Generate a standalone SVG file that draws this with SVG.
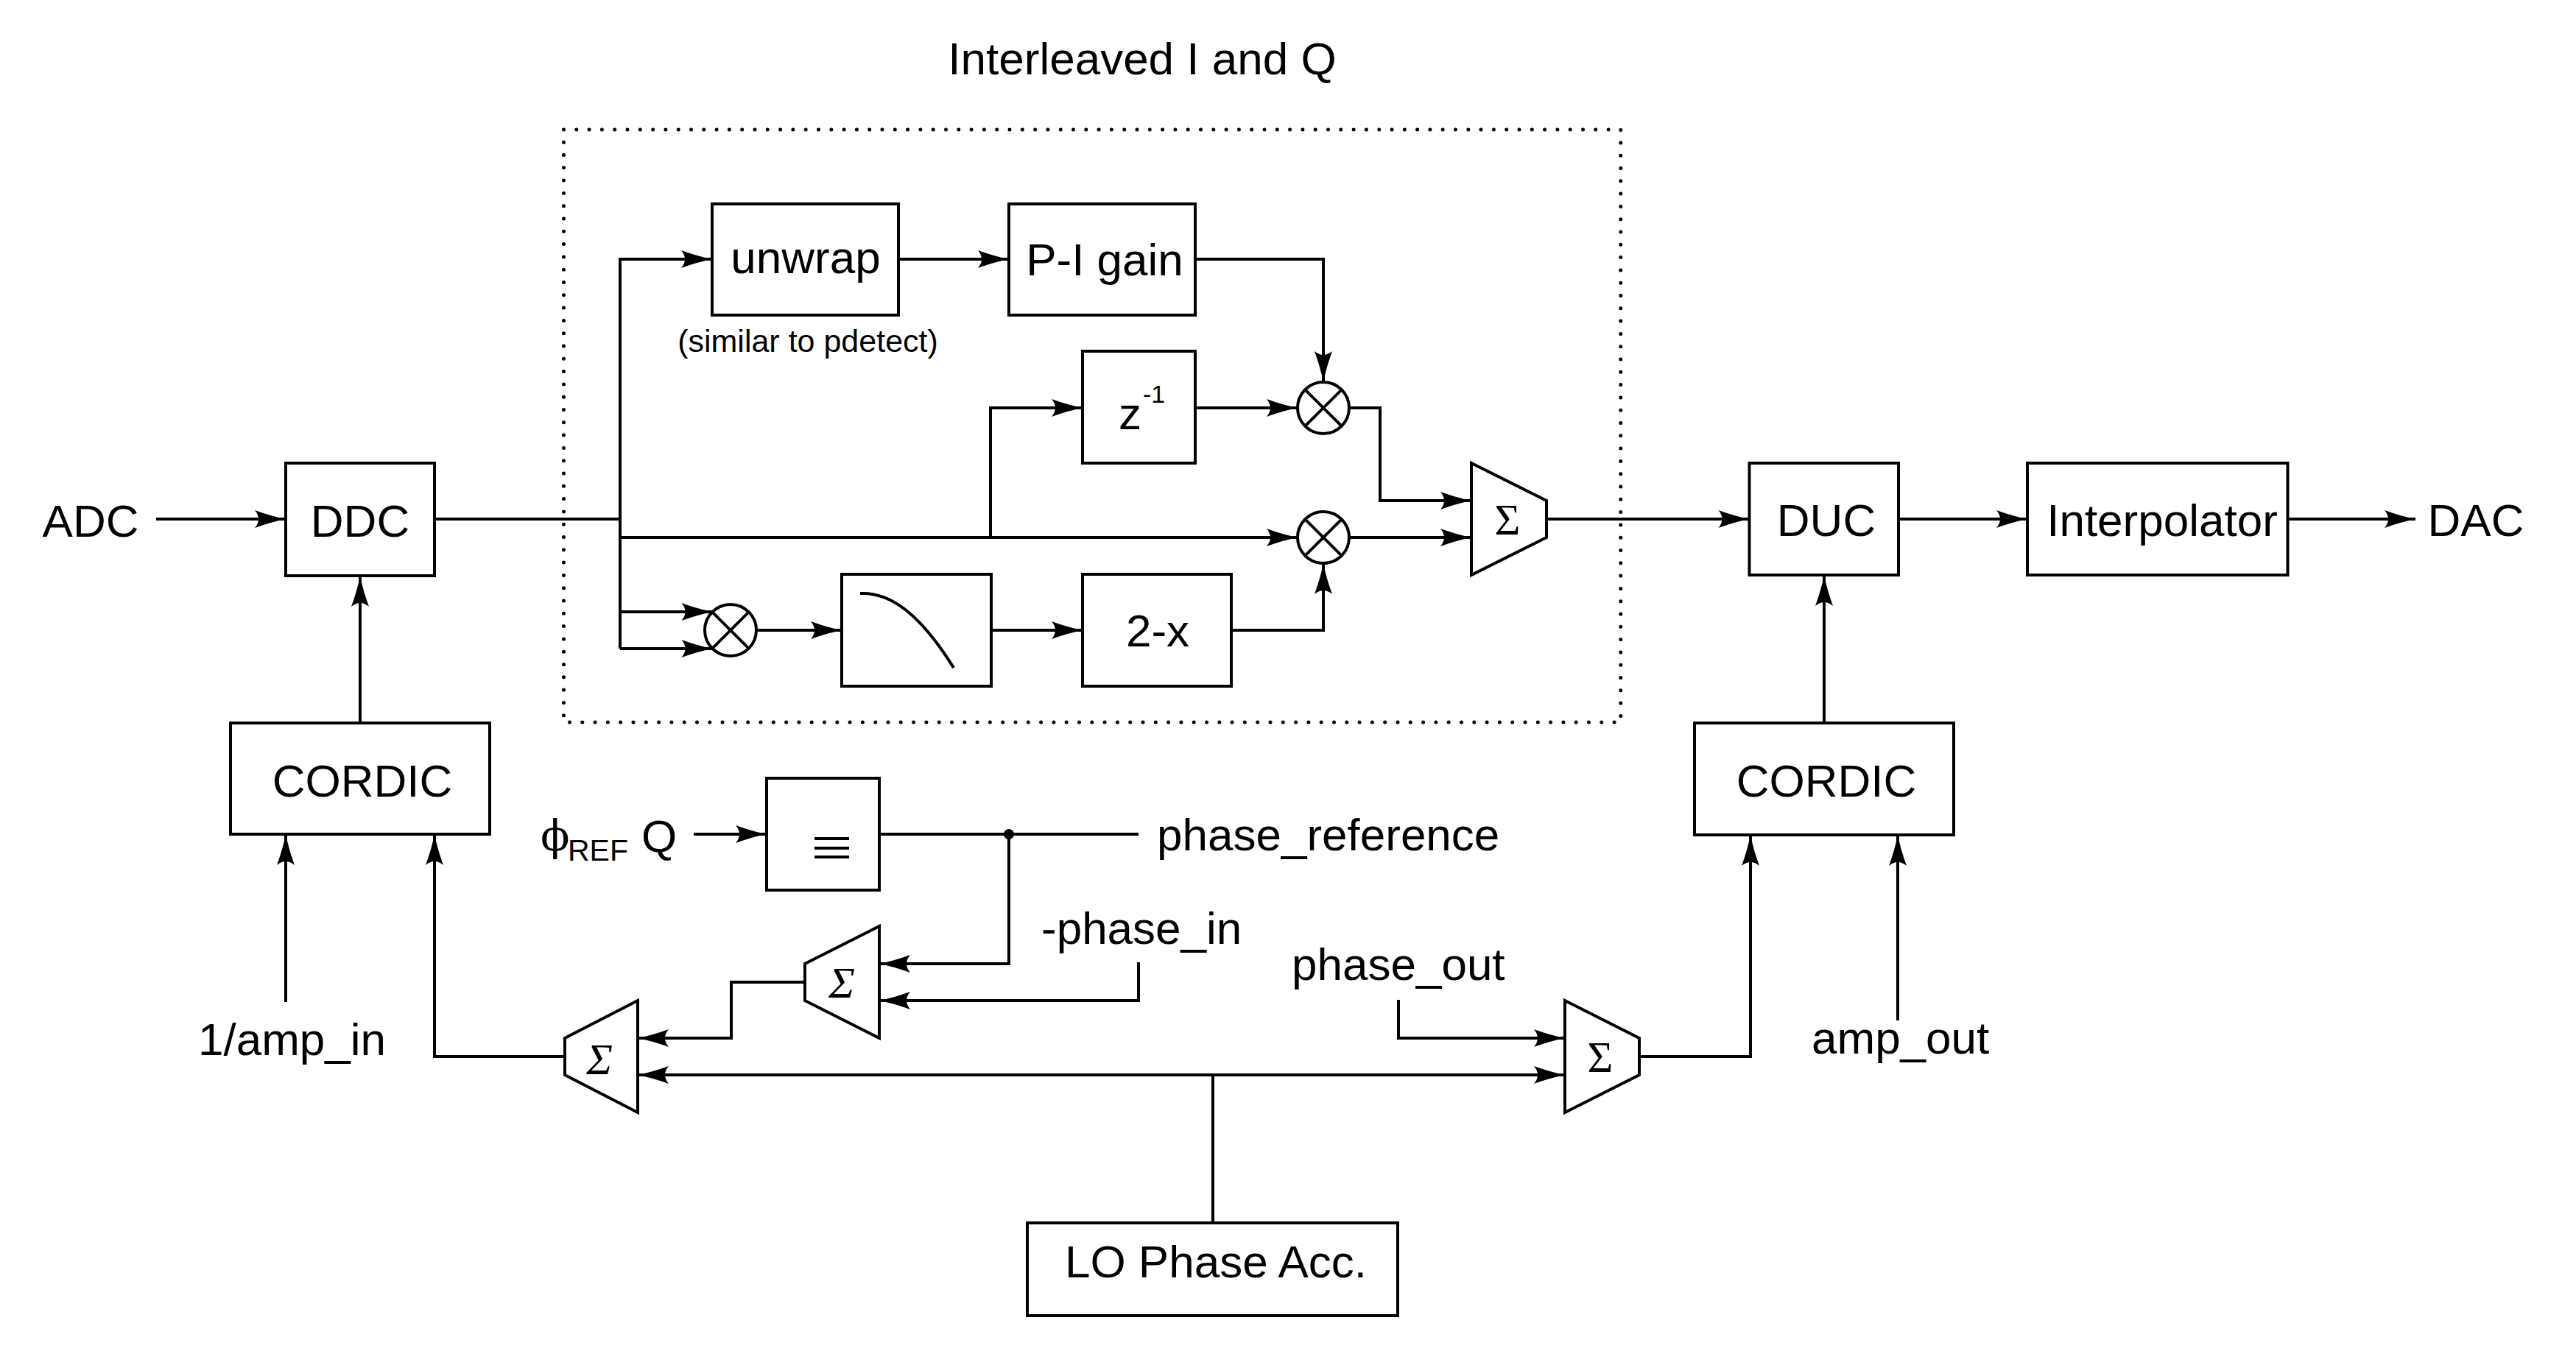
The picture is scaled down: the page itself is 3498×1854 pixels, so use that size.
<svg xmlns="http://www.w3.org/2000/svg" width="3498" height="1854" viewBox="0 0 3498 1854">
<style>
text{font-family:"Liberation Sans",Arial,sans-serif;font-size:62px;fill:#000}
.m{text-anchor:middle}
.box{fill:#fff;stroke:#000;stroke-width:4}
.sum{fill:#fff;stroke:#000;stroke-width:4;stroke-linejoin:miter}
.mul{fill:#fff;stroke:#000;stroke-width:4}
.w{fill:none;stroke:#000;stroke-width:4}
.a{fill:none;stroke:#000;stroke-width:4;marker-end:url(#ah)}
.sig{font-family:"Liberation Serif","DejaVu Serif",serif;font-size:60px;text-anchor:middle}
.dot{fill:none;stroke:#000;stroke-width:5;stroke-linecap:round;stroke-dasharray:0 17.3}
</style>
<defs>
<marker id="ah" viewBox="-44 -14 46 28" refX="0" refY="0" markerWidth="46" markerHeight="28" markerUnits="userSpaceOnUse" orient="auto-start-reverse">
<path d="M0,0 Q-20,-4 -42,-12 Q-32,0 -42,12 Q-20,4 0,0Z" fill="#000"/>
</marker>
</defs>
<rect width="3498" height="1854" fill="#fff"/>

<g id="interleave-region">
<rect x="765.5" y="176" width="1435.3" height="805" class="dot"/>
<text class="m" x="1551" y="101">Interleaved I and Q</text>
</g>

<g id="connectors">
<path class="a" d="M212,705 H388"/>
<path class="w" d="M590,705 H842"/>
<path class="a" d="M842,881 V352 H967"/>
<path class="a" d="M842,831 H967.5"/>
<path class="a" d="M842,881 H967.5"/>
<path class="a" d="M842,730 H1762"/>
<path class="a" d="M1345,730 V554 H1470"/>
<path class="a" d="M1220,352 H1370"/>
<path class="a" d="M1623,352 H1797 V519"/>
<path class="a" d="M1623,554 H1762"/>
<path class="a" d="M1832,554 H1874 V680 H1998"/>
<path class="a" d="M1832,730 H1998"/>
<path class="a" d="M1027,856 H1143"/>
<path class="a" d="M1346,856 H1470"/>
<path class="a" d="M1672,856 H1797 V765"/>
<path class="a" d="M2100,705 H2375.5"/>
<path class="a" d="M2578,705 H2753"/>
<path class="a" d="M3106.5,705 H3280"/>
<path class="a" d="M489,982 V782"/>
<path class="a" d="M2477,982 V781"/>
<path class="a" d="M388,1361 V1133"/>
<path class="a" d="M767,1435 H590 V1133"/>
<path class="a" d="M942,1133 H1041"/>
<path class="w" d="M1194,1133 H1546"/>
<circle cx="1370" cy="1133" r="7" fill="#000"/>
<path class="a" d="M1370,1133 V1309 H1194"/>
<path class="a" d="M1546,1307 V1359 H1194"/>
<path class="a" d="M1093,1334 H993 V1410 H866"/>
<path class="a" d="M866,1460 H2125" marker-start="url(#ah)"/>
<path class="w" d="M1647,1460 V1661"/>
<path class="a" d="M1899,1358 V1410 H2125"/>
<path class="a" d="M2226,1435 H2377 V1134"/>
<path class="a" d="M2577,1386 V1134"/>
</g>

<g id="adc"><text class="m" x="123" y="729">ADC</text></g>
<g id="ddc"><rect class="box" x="388" y="629" width="202" height="153"/><text class="m" x="489" y="729">DDC</text></g>
<g id="unwrap"><rect class="box" x="967" y="277" width="253" height="151"/><text class="m" x="1094" y="371">unwrap</text>
<text class="m" x="1097" y="478" style="font-size:43px">(similar to pdetect)</text></g>
<g id="pigain"><rect class="box" x="1370" y="277" width="253" height="151"/><text class="m" x="1500" y="374">P-I gain</text></g>
<g id="zinv"><rect class="box" x="1470" y="477" width="153" height="152"/><text><tspan x="1519" y="583">z</tspan><tspan x="1552" y="547" style="font-size:34px">-1</tspan></text></g>
<g id="mul1"><circle class="mul" cx="1797" cy="554" r="35"/><path class="w" d="M1772.3,529.3 L1821.7,578.7 M1821.7,529.3 L1772.3,578.7"/></g>
<g id="mul2"><circle class="mul" cx="1797" cy="730" r="35"/><path class="w" d="M1772.3,705.3 L1821.7,754.7 M1821.7,705.3 L1772.3,754.7"/></g>
<g id="mul3"><circle class="mul" cx="992" cy="856" r="35"/><path class="w" d="M967.3,831.3 L1016.7,880.7 M1016.7,831.3 L967.3,880.7"/></g>
<g id="filter"><rect class="box" x="1143" y="780" width="203" height="152"/><path class="w" d="M1168,806 C1210,804 1250,835 1295,907"/></g>
<g id="twominusx"><rect class="box" x="1470" y="780" width="202" height="152"/><text class="m" x="1572" y="878">2-x</text></g>
<g id="sum1"><polygon class="sum" points="1998,629 2100,680 2100,730 1998,781"/><text class="sig" x="2047" y="726">Σ</text></g>
<g id="duc"><rect class="box" x="2375.5" y="629" width="202.5" height="152"/><text class="m" x="2480" y="728">DUC</text></g>
<g id="interp"><rect class="box" x="2753" y="629" width="353.5" height="152"/><text class="m" x="2936" y="728">Interpolator</text></g>
<g id="dac"><text class="m" x="3362" y="728">DAC</text></g>
<g id="cordic-in"><rect class="box" x="313" y="982" width="352" height="151"/><text class="m" x="492" y="1082">CORDIC</text></g>
<g id="cordic-out"><rect class="box" x="2301" y="982" width="352" height="152"/><text class="m" x="2480" y="1082">CORDIC</text></g>
<g id="amp-in"><text x="269" y="1433">1/amp_in</text></g>
<g id="amp-out"><text x="2460" y="1431">amp_out</text></g>
<g id="phiref"><text x="734" y="1155" style="font-family:'DejaVu Serif','Liberation Serif',serif;font-size:58px">ϕ</text><text x="771" y="1169" style="font-size:41px">REF</text><text class="m" x="895" y="1157">Q</text></g>
<g id="equiv"><rect class="box" x="1041" y="1057" width="153" height="152"/><path class="w" d="M1106,1139 H1153 M1106,1152 H1153 M1106,1164 H1153"/></g>
<g id="phase-reference"><text x="1571" y="1155">phase_reference</text></g>
<g id="phase-in"><text x="1414" y="1282">-phase_in</text></g>
<g id="phase-out"><text x="1754" y="1331">phase_out</text></g>
<g id="sum-mid"><polygon class="sum" points="1194,1258 1093,1309 1093,1359 1194,1410"/><text class="sig" x="1143" y="1355" style="font-style:italic">Σ</text></g>
<g id="sum2"><polygon class="sum" points="866,1359 767,1410 767,1460 866,1511"/><text class="sig" x="814" y="1459" style="font-style:italic">Σ</text></g>
<g id="sum3"><polygon class="sum" points="2125,1359 2226,1410 2226,1460 2125,1511"/><text class="sig" x="2173" y="1456">Σ</text></g>
<g id="lo"><rect class="box" x="1395" y="1661" width="503" height="126"/><text class="m" x="1651" y="1735">LO Phase Acc.</text></g>
</svg>
